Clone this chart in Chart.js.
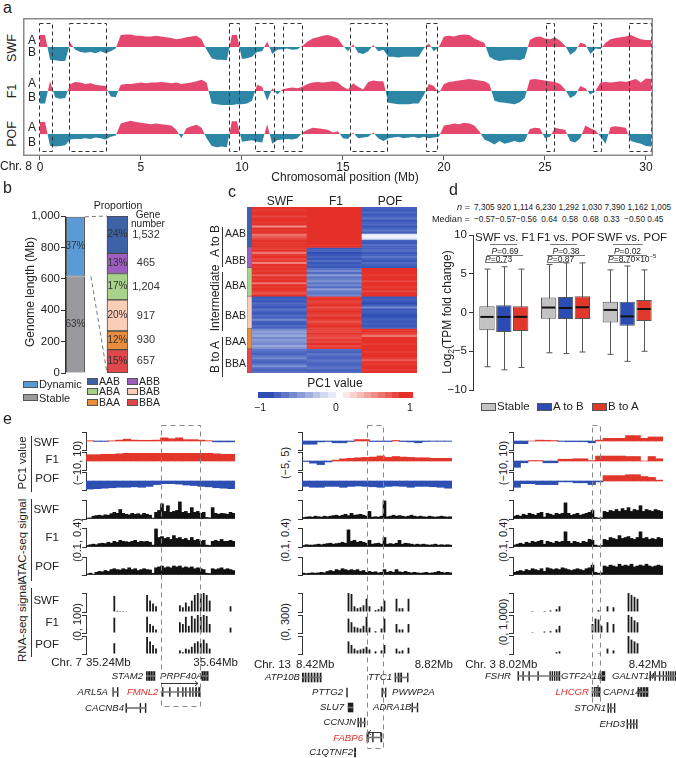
<!DOCTYPE html>
<html><head><meta charset="utf-8"><title>chart</title>
<script src="https://cdn.jsdelivr.net/npm/chart.js@4.4.1/dist/chart.umd.min.js"></script>
<style>
html,body{margin:0;padding:0;background:#fff;}
#root{position:relative;width:676px;height:758px;overflow:hidden;font-family:"Liberation Sans",Arial,Helvetica,sans-serif;color:#222;}
#root canvas{position:absolute;}
.t{position:absolute;white-space:pre;line-height:1;}
.sw{position:absolute;border:1px solid #555;box-sizing:border-box;}
#ov{position:absolute;left:0;top:0;pointer-events:none;}
sup{font-size:70%;vertical-align:super;line-height:0;}
sub{font-size:70%;vertical-align:sub;line-height:0;}
</style></head><body><div id="root"></div>
<script>
// ================= DATA =================
// ---- panel a : PC1 along Chr. 8 (0.25 Mb bins) ----
const aStep = 0.25;
const aTicks = [0,5,10,15,20,25,30];
const aSWF = [
 0.85,0.85,-0.9,-0.95,-1.0,-1.0,0.3,-0.2,
 -0.35,-0.4,-0.35,-0.45,-0.3,-0.45,-0.3,-0.1,
 0.85,0.9,0.9,0.8,0.8,0.75,0.75,0.8,
 0.75,0.7,0.65,0.55,0.6,0.7,0.75,0.8,
 0.55,-0.2,-0.8,-0.9,-0.9,-0.95,0.85,0.85,
 -0.85,-0.8,-0.7,-0.35,-0.3,0.4,-0.5,-0.2,
 -0.15,-0.1,-0.2,-0.15,0.1,0.4,0.6,0.7,
 0.8,0.85,0.75,0.6,0.1,-0.3,0.2,-0.4,
 -0.5,-0.3,0.15,-0.3,-0.2,-0.7,-0.7,-0.75,
 -0.7,-0.7,-0.7,-0.7,-0.1,0.25,-0.3,0.0,
 0.75,0.8,0.75,0.85,0.9,0.85,0.6,0.45,
 0.3,-0.7,-0.9,-1.0,-0.95,-0.9,-0.9,-0.95,
 -0.8,0.5,0.7,0.75,0.6,0.55,0.7,0.45,
 0.1,-0.55,-0.3,0.3,0.2,-0.5,-0.1,-0.15,
 0.3,0.55,0.65,0.7,0.75,0.85,0.7,0.55,
 0.5,0.5];
const aF1 = [
 -0.9,-0.9,0.7,-0.45,-0.55,-0.5,0.5,0.65,
 0.6,0.5,0.55,0.45,0.4,0.35,-0.4,-0.45,
 0.45,0.5,0.5,0.55,0.6,0.55,0.6,0.6,
 0.65,0.6,0.55,0.6,0.5,0.55,0.6,0.7,
 0.8,0.6,-0.9,-0.95,-1.0,-1.0,-1.0,-0.95,
 -0.95,-0.9,-0.7,0.45,0.3,-0.7,0.2,-0.25,
 0.1,0.2,0.25,0.2,0.3,0.5,0.6,0.65,
 0.6,0.65,0.7,0.6,0.3,0.1,0.55,0.3,
 0.1,0.65,0.75,0.7,0.7,-0.85,-0.9,-0.95,
 -0.95,-0.95,-0.9,-0.9,-0.3,0.5,0.35,-0.15,
 0.5,0.65,0.7,0.75,0.8,0.85,0.8,0.75,
 0.7,0.5,-0.7,-0.8,-0.85,-0.9,-0.95,-0.8,
 -0.5,0.8,0.85,0.8,0.75,0.7,0.65,0.5,
 0.1,-0.5,-0.3,0.35,0.2,-0.25,0.0,0.6,
 0.65,0.6,0.65,0.7,0.65,0.75,0.85,0.6,
 0.9,0.85];
const aPOF = [
 0.85,0.85,-0.85,-0.9,-0.85,-0.8,-0.4,-0.35,
 -0.35,-0.3,-0.35,-0.25,-0.3,-0.4,-0.2,-0.1,
 0.75,0.85,0.95,0.85,0.8,0.75,0.7,0.75,
 0.7,0.65,0.6,0.3,-0.3,0.4,0.55,0.65,
 0.45,-0.3,-0.85,-0.95,-0.9,-0.95,0.9,0.9,
 -0.55,-0.5,-0.45,-0.55,-0.6,0.7,-0.7,-0.45,
 -0.4,-0.35,-0.4,-0.3,0.1,0.3,0.45,0.4,
 0.35,0.3,0.1,0.2,-0.3,-0.35,0.1,-0.3,
 -0.25,-0.2,0.1,-0.3,-0.5,-0.3,-0.25,-0.2,
 -0.3,-0.25,-0.2,-0.3,-0.2,-0.3,-0.25,-0.2,
 0.6,0.65,0.75,0.7,0.8,0.75,0.6,0.2,
 -0.4,-0.55,-0.75,-0.5,-0.7,-0.6,-0.5,-0.6,
 -0.5,0.35,0.45,0.4,-0.3,-0.2,0.45,0.35,
 0.3,-0.5,-0.6,-0.3,0.6,0.4,0.25,-0.2,
 -0.7,0.5,0.55,0.5,0.45,-0.5,-0.6,-0.7,
 -0.85,-0.9];
const aBoxes = [[-0.05,0.58],[1.43,3.25],[9.34,9.83],[10.66,11.58],[12.05,12.97],[15.36,17.18],[19.1,19.66],[25.04,25.43],[27.37,27.78],[29.17,30.24]];

// ---- panel b ----
const bTicks = [0,200,400,600,800,1000];
const bStable = 615, bDynamic = 380;
const bClasses = ['AAB','ABB','ABA','BAB','BAA','BBA'];
const bPct = [24,13,17,20,12,15];
const bGenes = [1532,465,1204,917,930,657];

// ---- panel c : heatmap rows (top to bottom) ----
const cCols = ['SWF','F1','POF'];
const cGroupRows = [20,10,14,16,10,12];
const cSWF = [
 0.9,0.85,0.95,0.9,0.8,0.9,0.95,0.85,0.9,0.5,0.9,0.85,0.95,0.6,0.7,0.8,0.9,0.85,0.95,0.9,
 0.85,0.9,0.6,0.85,0.9,0.8,0.85,0.55,0.9,0.85,
 0.9,0.85,0.9,0.7,0.9,0.85,0.9,0.6,0.9,0.85,0.9,0.85,0.75,0.9,
 -0.85,-0.8,-0.85,-0.75,-0.8,-0.85,-0.7,-0.8,-0.85,-0.75,-0.8,-0.6,-0.8,-0.85,-0.75,-0.8,
 -0.6,-0.5,-0.55,-0.45,-0.6,-0.5,-0.55,-0.6,-0.45,-0.55,
 -0.7,-0.75,-0.8,-0.7,-0.6,-0.75,-0.8,-0.7,-0.55,-0.75,-0.8,-0.7];
const cF1 = [
 0.95,0.95,0.9,0.95,0.95,0.9,0.95,0.95,0.9,0.95,0.95,0.9,0.95,0.95,0.9,0.95,0.95,0.9,0.95,0.95,
 -0.85,-0.8,-0.9,-0.85,-0.8,-0.85,-0.75,-0.85,-0.8,-0.85,
 -0.7,-0.6,-0.75,-0.5,-0.7,-0.65,-0.55,-0.7,-0.6,-0.75,-0.5,-0.65,-0.7,-0.6,
 0.85,0.9,0.8,0.85,0.9,0.75,0.85,0.9,0.85,0.8,0.9,0.85,0.75,0.85,0.9,0.85,
 0.85,0.8,0.9,0.8,0.75,0.85,0.8,0.9,0.8,0.85,
 -0.75,-0.8,-0.7,-0.75,-0.8,-0.7,-0.75,-0.8,-0.75,-0.7,-0.8,-0.75];
const cPOF = [
 -0.8,-0.85,-0.75,-0.85,-0.8,-0.7,-0.85,-0.8,-0.75,-0.85,-0.8,-0.7,-0.8,-0.1,-0.05,-0.15,-0.8,-0.85,-0.75,-0.8,
 -0.8,-0.75,-0.85,-0.8,-0.7,-0.8,-0.85,-0.75,-0.8,-0.85,
 0.95,0.9,0.95,0.85,0.9,0.95,0.8,0.9,0.95,0.85,0.9,0.8,0.9,0.95,
 -0.85,-0.8,-0.85,-0.9,-0.8,-0.6,-0.85,-0.8,-0.85,-0.9,-0.85,-0.8,-0.85,-0.8,-0.85,-0.8,
 0.9,0.95,0.85,0.6,0.9,0.95,0.9,0.85,0.95,0.9,
 0.9,0.85,0.95,0.9,0.85,0.7,0.9,0.85,0.95,0.9,0.85,0.9];

// ---- panel d : box plots (series x category) ----
const dCats = ['SWF vs. F1','F1 vs. POF','SWF vs. POF'];
const dSeries = ['Stable','A to B','B to A'];
const dN   = [[7305,6230,7390],[920,1292,1162],[1114,1030,1005]];
const dMed = [[-0.57,0.64,0.33],[-0.57,0.58,-0.50],[-0.56,0.68,0.45]];
const dQ1  = [[-2.3,-0.8,-1.3],[-2.5,-0.85,-1.7],[-2.4,-0.85,-1.1]];
const dQ3  = [[0.8,1.95,1.4],[0.95,2.0,1.4],[0.8,2.1,1.6]];
const dMin = [[-7.0,-5.2,-5.4],[-7.4,-5.3,-6.3],[-7.1,-5.1,-5.0]];
const dMax = [[5.6,6.2,5.5],[5.9,6.4,6.0],[5.6,6.4,5.5]];
const dTicks = [-10,-5,0,5,10];
const dP = [['0.69','0.73'],['0.38','0.87'],['0.02','8.70×10<sup>−5</sup>']];

// ---- panel e : browser tracks (20 PC1 bins, 50 signal bins) ----
const eC1SWF = [0.3,-0.5,-0.5,0.2,1.0,2.0,1.0,0.8,0.8,1.0,3.5,2.5,3.5,1.5,1.5,1.0,0.3,-1.0,-1.0,-1.0];
const eC1F1  = [7,7,7.5,7.5,8,8.5,8.5,8.5,8.5,8.5,8.5,8.5,8.5,8.5,8.5,8.5,8.5,8,7.5,7.5];
const eC1POF = [-9,-8.5,-8,-7.5,-7,-7,-6.5,-7,-6,-4,-3,-3,-3.5,-4.5,-5,-6,-6.5,-7.5,-8,-8.5];
const eC2SWF = [-1.8,-1.8,-0.5,-0.3,-1,-1,-0.3,0.8,0.8,-0.3,-0.3,-0.3,0.3,-0.3,-0.5,-1,-0.3,-0.2,-0.2,-0.2];
const eC2F1  = [-0.3,-1.2,-2,-0.5,0.5,1.2,1.5,1.8,2,2.2,2.8,2,2.5,2.2,2,1.8,1.8,1.5,1.5,1.5];
const eC2POF = [-3,-3.5,-3.5,-3,-3,-3.5,-3,-2.8,-3,-3.2,-3.5,-3,-2.8,-3,-3.5,-3,-3,-3.2,-3.5,-4];
const eC3SWF = [-3,-3,0,1,0.8,0.5,-0.5,-0.8,-0.8,-0.8,-2,1,3,3,3,6,6,3,4.5,4.5];
const eC3F1  = [-7,-2,0.5,0.5,-2,-2,2,2,2.5,2.5,0.5,5.5,5.5,5.5,5.5,5,5,0,5,2.5];
const eC3POF = [-7,-3,-3,-4,-4,-4,-1,-1,-2,-2,-4,-1,6,6,6,7,7,5,4,1];

const eA1SWF = [0.05,0.06,0.15,0.18,0.2,0.17,0.22,0.2,0.28,0.35,0.3,0.5,0.3,0.25,0.22,0.3,0.25,0.28,0.22,0.3,0.25,0.2,0.05,0.35,0.45,0.8,0.4,0.7,0.35,0.4,0.45,0.9,0.35,0.4,0.3,0.6,0.35,0.4,0.3,0.35,0.08,0.06,0.6,0.3,0.25,0.3,0.28,0.25,0.35,0.3];
const eA1F1  = [0.08,0.12,0.15,0.12,0.18,0.2,0.18,0.25,0.2,0.3,0.25,0.35,0.3,0.28,0.25,0.3,0.35,0.25,0.3,0.28,0.3,0.25,0.1,0.95,0.5,0.55,0.45,0.5,0.4,0.6,0.45,0.5,0.4,0.45,0.35,0.5,0.35,0.4,0.3,0.35,0.1,0.08,0.3,0.35,0.3,0.4,0.3,0.3,0.35,0.3];
const eA1POF = [0.06,0.1,0.05,0.15,0.2,0.18,0.25,0.2,0.3,0.35,0.3,0.28,0.35,0.3,0.4,0.3,0.35,0.25,0.3,0.35,0.3,0.28,0.1,0.4,0.45,0.5,0.4,0.45,0.4,0.5,0.45,0.5,0.4,0.45,0.4,0.45,0.35,0.4,0.35,0.3,0.1,0.08,0.35,0.3,0.35,0.4,0.3,0.35,0.3,0.25];
const eA2SWF = [0.08,0.1,0.12,0.1,0.15,0.12,0.1,0.15,0.12,0.15,0.18,0.2,0.15,0.2,0.25,0.18,0.3,0.2,0.22,0.25,0.2,0.15,0.4,0.1,0.12,0.1,0.15,0.95,0.12,0.15,0.2,0.15,0.18,0.15,0.12,0.15,0.2,0.15,0.12,0.15,0.12,0.1,0.15,0.12,0.1,0.12,0.15,0.12,0.1,0.12];
const eA2F1  = [0.08,0.12,0.1,0.1,0.12,0.15,0.12,0.15,0.18,0.2,0.15,0.18,0.2,0.25,0.2,0.9,0.3,0.35,0.25,0.3,0.25,0.2,0.35,0.15,0.18,0.2,0.15,0.5,0.15,0.18,0.15,0.2,0.35,0.15,0.2,0.18,0.15,0.12,0.15,0.12,0.15,0.12,0.1,0.12,0.15,0.1,0.12,0.1,0.12,0.1];
const eA2POF = [0.1,0.08,0.1,0.12,0.1,0.12,0.15,0.12,0.2,0.25,0.2,0.3,0.25,0.35,0.3,0.25,0.3,0.25,0.3,0.2,0.25,0.15,0.2,0.15,0.18,0.12,0.15,0.3,0.15,0.2,0.15,0.3,0.18,0.15,0.2,0.15,0.12,0.15,0.12,0.1,0.12,0.15,0.1,0.12,0.15,0.2,0.15,0.12,0.15,0.12];
const eA3SWF = [0.15,0.2,0.15,0.25,0.2,0.3,0.25,0.2,0.3,0.35,0.1,0.3,0.25,0.2,0.3,0.25,0.3,0.85,0.3,0.2,0.25,0.3,0.2,0.25,0.3,0.35,0.45,0.08,0.05,0.06,0.4,0.35,0.45,0.4,0.5,0.4,0.55,0.45,0.6,0.4,0.5,0.45,0.7,0.4,0.5,0.45,0.4,0.5,0.45,0.4];
const eA3F1  = [0.1,0.15,0.2,0.15,0.25,0.2,0.3,0.25,0.3,0.35,0.15,0.3,0.25,0.2,0.3,0.25,0.3,0.8,0.3,0.2,0.3,0.25,0.2,0.3,0.25,0.4,0.35,0.1,0.06,0.08,0.4,0.35,0.5,0.45,0.4,0.6,0.45,0.5,0.55,0.45,0.4,0.5,0.8,0.45,0.5,0.4,0.45,0.4,0.5,0.45];
const eA3POF = [0.15,0.2,0.25,0.2,0.3,0.25,0.35,0.3,0.25,0.35,0.2,0.4,0.35,0.3,0.35,0.3,0.4,0.35,0.3,0.25,0.3,0.35,0.3,0.25,0.35,0.4,0.55,0.15,0.1,0.12,0.5,0.45,0.55,0.5,0.45,0.6,0.5,0.55,0.5,0.6,0.45,0.5,0.55,0.5,0.6,0.5,0.45,0.5,0.55,0.5];

const eR1SWF = [0,0,0,0,0,0,0,0,0,0.85, 0.06,0.05,0.05,0.04,0,0,0,0,0,0, 0.9,0.6,0.45,0.3,0,0.02,0.02,0.02,0.02,0, 0,0.35,0.25,0.5,0.3,0.6,0.9,1.0,0.95,1.0, 0.9,0.6,0,0,0,0,0,0,0.3,0];
const eR1F1  = [0,0,0,0,0,0,0,0,0,0.85, 0,0,0,0,0,0,0,0,0,0, 0.9,0.5,0.4,0.2,0,0,0,0,0,0, 0,0.6,0.5,0.9,0.4,0.95,0.8,1.0,0.9,1.0, 0.95,0.5,0,0,0,0,0,0,0.3,0];
const eR1POF = [0,0,0,0,0,0,0,0,0,0.6, 0,0,0,0,0,0,0,0,0,0, 0.95,0.7,0.5,0.3,0,0,0,0,0,0, 0,0.2,0.1,0.3,0.25,0.4,0.6,0.7,0.6,0.8, 0.6,0.3,0,0,0,0,0,0,0,0];
const eR2SWF = [0,0,0,0,0,0,0,0,0,0, 0,0,0,0,0,1.0,0.95,0.3,0.2,0.25, 0.35,0.7,0.3,0,0.1,0.15,0.3,0.6,0,0, 0,0.7,0.2,0.2,0,0.7,0,0,0,0, 0,0,0,0,0,0,0,0,0,0];
const eR2F1  = [0,0,0,0,0,0,0,0,0,0, 0,0,0,0,0,0.8,0.6,0.35,0.3,0.25, 0.4,0.9,0.3,0,0.1,0,0.25,0.8,0,0, 0,0.5,0.2,0.2,0,0.5,0,0,0,0, 0,0,0,0,0,0,0,0,0,0];
const eR2POF = [0,0,0,0,0,0,0,0,0,0, 0,0,0,0,0,0.7,0.5,0.3,0.2,0.25, 0.3,0.4,0.25,0,0.15,0,0.2,0.5,0,0, 0,0.3,0.15,0.2,0,0.35,0,0,0,0, 0,0,0,0,0,0,0,0,0,0];
const eR3SWF = [0,0,0,0,0,0,0.05,0,0,0, 0.05,0,0.08,0,0.15,0.3,0,0,0,0, 0,0,0,0,0,0,0,0,0.1,0, 0,0.3,0,0.25,0,0,0,0,1.0,0.9, 0.8,0.7,0,0,0,0,0,0,0,0];
const eR3F1  = [0,0,0,0,0,0,0.05,0,0,0, 0.08,0,0.1,0,0.2,0.4,0,0,0,0, 0,0,0,0,0,0,0.5,0.8,0.75,0.4, 0,0.6,0,0.5,0,0,0,0,1.0,0.9, 0.7,0.6,0,0,0,0,0,0,0,0];
const eR3POF = [0,0,0,0,0,0,0,0,0,0, 0,0,0,0,0.1,0.15,0,0,0,0, 0,0,0,0,0,0,0,0,0.05,0, 0,0.3,0,0.2,0,0,0,0,1.0,0.8, 0.7,0.6,0,0,0,0,0,0,0,0];

// genes: [name, row, start, end, exons]
const eGenes1 = [
 ['STAM2',0,35.402,35.425,[[35.402,35.404],[35.406,35.408],[35.410,35.4125],[35.415,35.417],[35.419,35.421],[35.423,35.425]]],
 ['PRPF40A',0,35.550,35.568,[[35.551,35.554],[35.556,35.559],[35.561,35.563],[35.565,35.568]]],
 ['ARL5A',1,35.312,35.326,[[35.312,35.3135],[35.324,35.326]]],
 ['FMNL2',1,35.441,35.546,[[35.445,35.447],[35.464,35.466],[35.486,35.488],[35.499,35.501],[35.507,35.509],[35.518,35.520],[35.526,35.528],[35.534,35.537],[35.542,35.546]]],
 ['CACNB4',2,35.347,35.401,[[35.347,35.349],[35.385,35.387],[35.399,35.401]]]];
const eGenes2 = [
 ['ATP10B',0,8.420,8.473,[[8.420,8.424],[8.428,8.431],[8.436,8.439],[8.444,8.447],[8.452,8.455],[8.460,8.463],[8.468,8.471]]],
 ['TTC1',0,8.668,8.703,[[8.668,8.670],[8.676,8.679],[8.683,8.686],[8.701,8.703]]],
 ['PTTG2',1,8.539,8.541,[[8.539,8.541]]],
 ['PWWP2A',1,8.633,8.644,[[8.633,8.635],[8.642,8.644]]],
 ['SLU7',2,8.543,8.556,[[8.543,8.556]]],
 ['ADRA1B',2,8.713,8.729,[[8.713,8.715],[8.727,8.729]]],
 ['CCNJN',3,8.569,8.588,[[8.569,8.571],[8.576,8.578],[8.586,8.588]]],
 ['FABP6',4,8.593,8.633,[[8.593,8.597],[8.608,8.610],[8.630,8.633]]],
 ['C1QTNF2',5,8.560,8.563,[[8.560,8.563]]]];
const eGenes3 = [
 ['FSHR',0,8.033,8.145,[[8.033,8.035],[8.046,8.048],[8.062,8.064],[8.086,8.088],[8.118,8.120],[8.124,8.126],[8.130,8.132],[8.136,8.138],[8.142,8.145]]],
 ['GTF2A1L',0,8.252,8.265,[[8.252,8.255],[8.258,8.265]]],
 ['GALNT14',0,8.385,8.455,[[8.385,8.387],[8.398,8.400],[8.410,8.412],[8.420,8.422],[8.428,8.430],[8.434,8.436],[8.440,8.442],[8.446,8.448],[8.452,8.455]]],
 ['LHCGR',1,8.231,8.252,[[8.231,8.233],[8.237,8.239],[8.243,8.245],[8.248,8.252]]],
 ['CAPN14',1,8.353,8.380,[[8.353,8.356],[8.360,8.364],[8.367,8.371],[8.374,8.380]]],
 ['STON1',2,8.273,8.292,[[8.273,8.275],[8.280,8.282],[8.290,8.292]]],
 ['EHD3',3,8.324,8.351,[[8.324,8.326],[8.333,8.335],[8.341,8.343],[8.349,8.351]]]];

// ================= HELPERS =================
const PINK='#e5486f', TEAL='#2d86a6', RED='#e2362a', BLUE='#2e4fb2';
const FONT='"Liberation Sans", Arial, Helvetica, sans-serif';
Chart.defaults.font.family = FONT;
Chart.defaults.color = '#222';
const root = document.getElementById('root');
const svg = [];
function ln(x1,y1,x2,y2,c,w,dash){ svg.push(`<line x1="${x1}" y1="${y1}" x2="${x2}" y2="${y2}" stroke="${c||'#333'}" stroke-width="${w||1}"${dash?` stroke-dasharray="${dash}"`:''}/>`); }
function rc(x,y,w,h,c,dash){ svg.push(`<rect x="${x}" y="${y}" width="${w}" height="${h}" fill="none" stroke="${c}" stroke-width="1" stroke-dasharray="${dash}"/>`); }
function T(x,y,s,o){ o=o||{}; const d=document.createElement('div'); d.className='t'; d.innerHTML=s;
  d.style.left=x+'px'; d.style.top=y+'px'; d.style.fontSize=(o.size||11)+'px';
  if(o.color) d.style.color=o.color; if(o.it) d.style.fontStyle='italic';
  const tx = o.a==='r' ? '-100%' : (o.a==='l' ? '0' : '-50%');
  if(o.sx){ d.style.transformOrigin='0 50%'; }
  d.style.transform = o.rot ? 'translate(-50%,-50%) rotate(-90deg)' : `translate(${tx},-50%)` + (o.sx?` scaleX(${o.sx})`:'');
  root.appendChild(d); }
function SW(x,y,w,h,c){ const d=document.createElement('div'); d.className='sw'; d.style.cssText+=`left:${x}px;top:${y}px;width:${w}px;height:${h}px;background:${c}`; root.appendChild(d); }
function mk(x,y,w,h,cfg){ const c=document.createElement('canvas'); c.width=w; c.height=h; c.style.left=x+'px'; c.style.top=y+'px'; root.appendChild(c);
  const o=cfg.options||{}; o.responsive=false; o.animation=false; o.events=[]; o.devicePixelRatio=1;
  if(!o.layout) o.layout={padding:0};
  o.plugins=Object.assign({legend:{display:false},tooltip:{enabled:false}},o.plugins||{});
  cfg.options=o; return new Chart(c.getContext('2d'),cfg); }
function heatColor(v){ const t=Math.min(1,Math.abs(v)/0.9); const c=v>=0?[228,48,40]:[46,78,182];
  const m=a=>Math.round(255+(a-255)*t); return `rgb(${m(c[0])},${m(c[1])},${m(c[2])})`; }
const fmtSigned=v=>(v<0?'−':'')+Math.abs(v).toFixed(2);

// ================= PANEL A =================
T(3,8,'a',{size:16,a:'l'});
const aPos = aSWF.map((_,i)=>+(i*aStep).toFixed(2));
const aSeries=[aSWF,aF1,aPOF];
const aRange=[[-1.21,2.07],[-1.36,1.93],[-1.57,1.71]];
const aScales={x:{type:'linear',min:-0.84,max:30.35,afterBuildTicks:s=>{s.ticks=aTicks.map(v=>({value:v}));},afterFit:s=>{s.height=22;},
  ticks:{font:{size:12},color:'#222',padding:0,maxRotation:0,autoSkip:false},grid:{drawOnChartArea:false,drawTicks:true,tickLength:4,color:'#555'},border:{display:false}}};
aSeries.forEach((_,k)=>{ aScales['y'+k]={axis:'y',type:'linear',position:'right',stack:'tracks',stackWeight:1,min:aRange[k][0],max:aRange[k][1],
  afterFit:s=>{s.width=0;},ticks:{display:false},grid:{display:false},border:{display:false}}; });
const aPlugin={id:'aFrame',afterDatasetsDraw(ch){ const {ctx,chartArea:ca,scales:{x}}=ch; ctx.save();
  ctx.strokeStyle='#333'; ctx.lineWidth=1; ctx.setLineDash([4,3]);
  aBoxes.forEach(([s,e])=>{ const x1=Math.round(x.getPixelForValue(s))+0.5, x2=Math.round(x.getPixelForValue(e))+0.5; ctx.strokeRect(x1,ca.top+5.5,x2-x1,ca.bottom-ca.top-10); });
  ctx.setLineDash([]); ctx.strokeStyle='#8a8a8a'; ctx.lineWidth=1.5; ctx.strokeRect(ca.left+0.75,ca.top+0.75,ca.width-1.5,ca.height-1.5); ctx.restore(); }};
mk(23,18,630,160,{type:'line',data:{datasets:aSeries.map((arr,k)=>({data:arr.map((v,i)=>({x:aPos[i],y:v})),yAxisID:'y'+k,xAxisID:'x',
  borderColor:'rgba(0,0,0,0)',borderWidth:0,pointRadius:0,tension:0,fill:{target:{value:0},above:PINK,below:TEAL}}))},
  options:{scales:aScales},plugins:[aPlugin]});
[['SWF',48],['F1',91],['POF',134]].forEach(([n,y])=>T(12,y,n,{size:12.5,rot:true}));
[[40,'A'],[52,'B'],[83,'A'],[97,'B'],[127,'A'],[142,'B']].forEach(([y,s])=>T(32,y,s,{size:12}));
T(0,166,'Chr. 8',{size:12,a:'l'});
T(345,177,'Chromosomal position (Mb)',{size:12});

// ================= PANEL B =================
T(3,188,'b',{size:16,a:'l'});
const bDatasets=[
 {data:[bStable,null,null],backgroundColor:'#9a9a9e',yAxisID:'y',barPercentage:0.9,inTxt:'63%'},
 {data:[bDynamic,null,null],backgroundColor:'#5b9bd5',yAxisID:'y',barPercentage:0.9,inTxt:'37%'}];
const bCols={AAB:'#3e62a8',ABB:'#9d5fbf',ABA:'#a8d18b',BAB:'#f9cdb6',BAA:'#e98c3c',BBA:'#e0474b'};
for(let i=bClasses.length-1;i>=0;i--) bDatasets.push({data:[null,null,bPct[i]],backgroundColor:bCols[bClasses[i]],yAxisID:'y2',barPercentage:1,inTxt:bPct[i]+'%',gene:bGenes[i].toLocaleString('en-US')});
bDatasets.forEach(d=>{d.borderColor='#4a4a4a';d.borderWidth=1;d.borderSkipped=false;d.categoryPercentage=1;});
const bPlugin={id:'bLab',afterDatasetsDraw(ch){ const ctx=ch.ctx; ctx.save(); ctx.textAlign='center'; ctx.textBaseline='middle'; ctx.fillStyle='#333';
  ch.data.datasets.forEach((ds,i)=>{ ch.getDatasetMeta(i).data.forEach((el,j)=>{ if(ds.data[j]==null) return; const cy=(el.y+el.base)/2;
    ctx.font='10px '+FONT; ctx.fillText(ds.inTxt,el.x,cy); if(ds.gene){ ctx.font='11px '+FONT; ctx.fillText(ds.gene,el.x+el.width/2+18,cy);} }); });
  const dyn=ch.getDatasetMeta(1).data[0], top=ch.getDatasetMeta(ch.data.datasets.length-1).data[2];
  const lx=dyn.x+dyn.width/2, rx=top.x-top.width/2;
  ctx.strokeStyle='#777'; ctx.lineWidth=1; ctx.setLineDash([4,3]); ctx.beginPath();
  ctx.moveTo(lx,dyn.y); ctx.lineTo(rx,top.y); ctx.moveTo(lx+6,dyn.base); ctx.lineTo(rx,ch.scales.y2.getPixelForValue(0)); ctx.stroke(); ctx.restore(); }};
mk(25,206,143,177,{type:'bar',data:{labels:['Genome','','Proportion'],datasets:bDatasets},
 options:{layout:{padding:{top:10,bottom:10,right:40}},scales:{
  x:{display:false,stacked:true},
  y:{stacked:true,min:0,max:1000,afterBuildTicks:s=>{s.ticks=bTicks.map(v=>({value:v}));},afterFit:s=>{s.width=40;},
     ticks:{font:{size:11.5},color:'#222',padding:1,callback:v=>v.toLocaleString('en-US')},grid:{drawOnChartArea:false,tickLength:4,color:'#333'},border:{display:true,color:'#333'}}  ,
  y2:{display:false,stacked:true,min:0,max:bPct.reduce((a,b)=>a+b,0)}}},plugins:[bPlugin]});
T(30,292,'Genome length (Mb)',{size:12,rot:true});
T(118,205,'Proportion',{size:10.5});
T(148,215,'Gene',{size:10}); T(148,224,'number',{size:10});
SW(23,381,15,7,'#5b9bd5'); T(39,384,'Dynamic',{size:11,a:'l'});
SW(23,394,15,7,'#9a9a9e'); T(39,398,'Stable',{size:11,a:'l'});
[['AAB',87,381],['ABB',127,381],['ABA',87,391],['BAB',127,391],['BAA',87,402],['BBA',127,402]].forEach(([n,x,y])=>{SW(x,y-3,11,7,bCols[n]);T(x+12,y,n,{size:10.5,a:'l'});});

// ================= PANEL C =================
T(228,192,'c',{size:16,a:'l'});
const cTotal=cSWF.length;
mk(252,207,165,166,{type:'bar',data:{labels:cCols,datasets:cSWF.map((v,i)=>({data:[1,1,1],backgroundColor:[heatColor(v),heatColor(cF1[i]),heatColor(cPOF[i])],borderWidth:0,barPercentage:1,categoryPercentage:1}))},
 options:{scales:{x:{display:false,stacked:true},y:{display:false,stacked:true,reverse:true,min:0,max:cTotal}}}});
mk(247,207,5,166,{type:'bar',data:{labels:['g'],datasets:cGroupRows.map((r,i)=>({data:[r],backgroundColor:bCols[bClasses[i]],borderColor:'#555',borderWidth:0.6,borderSkipped:false,barPercentage:1,categoryPercentage:1}))},
 options:{scales:{x:{display:false,stacked:true},y:{display:false,stacked:true,reverse:true,min:0,max:cTotal}}}});
[['SWF',280],['F1',336],['POF',390]].forEach(([n,x])=>T(x,201,n,{size:12}));
[['AAB',233],['ABB',260],['ABA',285],['BAB',315],['BAA',341],['BBA',363]].forEach(([n,y])=>T(246,y,n,{size:10.5,a:'r'}));
T(215,241,'A to B',{size:12,rot:true}); T(215,298,'Intermediate',{size:12,rot:true}); T(215,357,'B to A',{size:12,rot:true});
ln(222.5,227,222.5,267); ln(222.5,272,222.5,331); ln(222.5,337,222.5,377);
T(335,383,'PC1 value',{size:12});
for(let i=0;i<10;i++){ const d=document.createElement('div'); d.style.cssText=`position:absolute;left:${258+i*7.8}px;top:392px;width:8px;height:6px;background:${heatColor(-1+i*0.1)}`; root.appendChild(d); }
for(let i=0;i<10;i++){ const d=document.createElement('div'); d.style.cssText=`position:absolute;left:${343+i*7}px;top:392px;width:7.2px;height:6px;background:${heatColor(0.1+i*0.1)}`; root.appendChild(d); }
T(260,407,'−1',{size:10.5}); T(336,407,'0',{size:10.5}); T(410,407,'1',{size:10.5});

// ================= PANEL D =================
T(449,190,'d',{size:16,a:'l'});
const dColors=['#c3c3c3','#2b4cb3','#e0392b'];
const dPlugin={id:'dbox',
 beforeDatasetsDraw(ch){ const y=ch.scales.y,ctx=ch.ctx; ctx.save(); ctx.strokeStyle='#555'; ctx.lineWidth=1;
  ch.data.datasets.forEach((ds,i)=>ch.getDatasetMeta(i).data.forEach((el,j)=>{ const x=Math.round(el.x)+0.5, a=y.getPixelForValue(dMax[i][j]), b=y.getPixelForValue(dMin[i][j]);
   ctx.beginPath(); ctx.moveTo(x,a); ctx.lineTo(x,b); ctx.moveTo(x-3,a); ctx.lineTo(x+3,a); ctx.moveTo(x-3,b); ctx.lineTo(x+3,b); ctx.stroke(); })); ctx.restore(); },
 afterDatasetsDraw(ch){ const y=ch.scales.y,ctx=ch.ctx; ctx.save(); ctx.strokeStyle='#111'; ctx.lineWidth=2;
  ch.data.datasets.forEach((ds,i)=>ch.getDatasetMeta(i).data.forEach((el,j)=>{ const m=y.getPixelForValue(dMed[i][j]);
   ctx.beginPath(); ctx.moveTo(el.x-el.width/2+1,m); ctx.lineTo(el.x+el.width/2-1,m); ctx.stroke(); })); ctx.restore(); }};
mk(440,225,218,175,{type:'bar',data:{labels:dCats,datasets:dSeries.map((nm,i)=>({label:nm,data:dQ1[i].map((q,j)=>[q,dQ3[i][j]]),backgroundColor:dColors[i],borderColor:'#555',borderWidth:1,borderSkipped:false,barPercentage:0.91,categoryPercentage:0.82}))},
 options:{layout:{padding:{top:10,bottom:10}},scales:{x:{display:false},
  y:{min:-10,max:10,afterBuildTicks:s=>{s.ticks=dTicks.map(v=>({value:v}));},afterFit:s=>{s.width=33;},
   ticks:{font:{size:11.5},color:'#222',padding:2,callback:v=>(v<0?'−':'')+Math.abs(v)},grid:{drawOnChartArea:false,tickLength:4,color:'#333'},border:{display:true,color:'#333'}}}},plugins:[dPlugin]});
T(447,312,'Log<sub>2</sub>(TPM fold change)',{size:12,rot:true});
const dNtxt=[], dMtxt=[];
for(let j=0;j<3;j++) for(let i=0;i<3;i++){ dNtxt.push(dN[i][j].toLocaleString('en-US')); dMtxt.push(fmtSigned(dMed[i][j])); }
T(470,208,'<i>n</i> =',{size:9.2,a:'r'}); T(470,220,'Median =',{size:9.2,a:'r'});
T(474,208,dNtxt.join(' '),{size:9.2,a:'l',sx:0.9});
T(474,220,dMtxt.slice(0,3).join('')+'  '+dMtxt.slice(3).join('  ').replace(/  (\S+)$/,' $1'),{size:9.2,a:'l',sx:0.9});
const dG=[{c:505,t:[490,517],p1:[487,523],p2:[485,507]},{c:566,t:[550,577],p1:[547,585],p2:[547,568]},{c:632,t:[613,643],p1:[608,647],p2:[608,630]}];
dG.forEach((g,j)=>{ T(g.c,238,dCats[j],{size:11.5}); ln(g.t[0],244.5,g.t[1],244.5,'#777');
  T((g.p1[0]+g.p1[1])/2,250.5,'<i>P</i>='+dP[j][0],{size:8.5}); ln(g.p1[0],255.5,g.p1[1],255.5,'#777');
  T(g.p2[0],258.5,'<i>P</i>='+dP[j][1],{size:8.5,a:'l'}); ln(g.p2[0],262.5,g.p2[1],262.5,'#777'); });
SW(481,403,15,8,dColors[0]); T(497,407,'Stable',{size:11.5,a:'l'});
SW(537,403,15,8,dColors[1]); T(553,407,'A to B',{size:11.5,a:'l'});
SW(592,403,15,8,dColors[2]); T(608,407,'B to A',{size:11.5,a:'l'});

// ================= PANEL E =================
T(3,419,'e',{size:16,a:'l'});
const ePC=[[432,450],[452,470],[472,490]], eAT=[[500,519],[528,547],[557,575]], eRN=[[593,612],[615,633],[636,654]];
function eTrack(x0,x1,y0,y1,vals,min,max,colors,bp){
 return mk(x0-4,y0-1,x1-x0+4,y1-y0+2,{type:'bar',data:{labels:vals.map((_,i)=>i),datasets:[{data:vals,backgroundColor:colors,borderWidth:0,barPercentage:bp,categoryPercentage:1}]},
  options:{layout:{padding:{top:1,bottom:1}},scales:{x:{display:false},y:{min,max,afterBuildTicks:s=>{s.ticks=[{value:min},{value:max}];},afterFit:s=>{s.width=4;},
   ticks:{display:false},grid:{drawOnChartArea:false,drawTicks:true,tickLength:4,color:'#333'},border:{display:true,color:'#333'}}}}}); }
function eGeneChart(x0,w,y0,rowH,nRows,min,max,genes){
 const rows=Array.from({length:nRows},(_,i)=>'r'+i);
 const intr=genes.map(g=>({x:[g[2],g[3]],y:'r'+g[1]}));
 const ex=[]; genes.forEach(g=>g[4].forEach(e=>ex.push({x:e,y:'r'+g[1]})));
 return mk(x0,y0,w,rowH*nRows,{type:'bar',data:{labels:rows,datasets:[
  {data:intr,backgroundColor:'#777',barThickness:1,grouped:false},
  {data:ex,backgroundColor:'#1d1d1d',barThickness:9,grouped:false}]},
  options:{indexAxis:'y',scales:{x:{type:'linear',min,max,display:false},y:{type:'category',display:false}}}}); }
const eCols=[
 {x0:86,x1:235,R:10,pc:[eC1SWF,eC1F1,eC1POF],at:[eA1SWF,eA1F1,eA1POF],rn:[eR1SWF,eR1F1,eR1POF]},
 {x0:302,x1:452,R:5,pc:[eC2SWF,eC2F1,eC2POF],at:[eA2SWF,eA2F1,eA2POF],rn:[eR2SWF,eR2F1,eR2POF]},
 {x0:513,x1:663,R:10,pc:[eC3SWF,eC3F1,eC3POF],at:[eA3SWF,eA3F1,eA3POF],rn:[eR3SWF,eR3F1,eR3POF]}];
eCols.forEach(c=>{
 c.pc.forEach((v,i)=>eTrack(c.x0,c.x1,ePC[i][0],ePC[i][1],v,-c.R,c.R,v.map(a=>a>=0?RED:BLUE),1));
 c.at.forEach((v,i)=>eTrack(c.x0,c.x1,eAT[i][0],eAT[i][1],v,0,1,'#111',1));
 c.rn.forEach((v,i)=>eTrack(c.x0,c.x1,eRN[i][0],eRN[i][1],v,0,1,'#1a1a1a',0.6));
});
eGeneChart(86,149,668,16,3,35.24,35.64,eGenes1);
eGeneChart(302,150,670,15,6,8.42,8.82,eGenes2);
eGeneChart(513,163,668,16,4,8.02,8.4547,eGenes3);
// left labels
T(23,463,'PC1 value',{size:11.5,rot:true}); T(23,541,'ATAC-seq signal',{size:11.5,rot:true}); T(23,622,'RNA-seq signal',{size:11.5,rot:true});
ln(31.5,436,31.5,492); ln(31.5,499,31.5,581); ln(31.5,588,31.5,657);
[['SWF',443],['F1',460],['POF',479],['SWF',510],['F1',538],['POF',567],['SWF',601],['F1',623],['POF',645]].forEach(([n,y])=>T(59,y,n,{size:11.5,a:'r'}));
[[77,'(−10, 10)','(0, 100)'],[285,'(−5, 5)','(0, 300)'],[503,'(−10, 10)','(0, 1,000)']].forEach(([x,a,b])=>{
 T(x,463,a,{size:11,rot:true}); T(x,540,'(0.1, 0.4)',{size:11,rot:true}); T(x,622,b,{size:11,rot:true}); });
T(82,663,'Chr. 7',{size:11.5,a:'r'}); T(86,663,'35.24Mb',{size:11.5,a:'l'}); T(238,663,'35.64Mb',{size:11.5,a:'r'});
T(291,665,'Chr. 13',{size:11.5,a:'r'}); T(296,665,'8.42Mb',{size:11.5,a:'l'}); T(453,665,'8.82Mb',{size:11.5,a:'r'});
T(496,665,'Chr. 3',{size:11.5,a:'r'}); T(499,665,'8.02Mb',{size:11.5,a:'l'}); T(667,665,'8.42Mb',{size:11.5,a:'r'});
const GR='#e0302a';
[[143,676,'STAM2','r'],[160,676,'PRPF40A','l'],[108,692,'ARL5A','r'],[127,692,'FMNL2','l',GR],[124,708,'CACNB4','r'],
 [300,677,'ATP10B','r'],[368,677,'TTC1','l'],[343,692,'PTTG2','r'],[392,692,'PWWP2A','l'],[344,707,'SLU7','r'],[373,707,'ADRA1B','l'],[356,722,'CCNJN','r'],[363,738,'FABP6','r',GR],[353,752,'C1QTNF2','r'],
 [511,676,'FSHR','r'],[561,676,'GTF2A1L','l'],[612,676,'GALNT14','l'],[589,692,'LHCGR','r',GR],[603,692,'CAPN14','l'],[606,708,'STON1','r'],[625,724,'EHD3','r']
].forEach(([x,y,s,a,col])=>T(x,y,s,{size:9.6,it:true,a,color:col}));
// dashed regions
rc(161.5,425.5,39,281,'#888','5,4'); rc(367.5,425.5,16,323,'#888','5,4'); rc(592.5,425.5,8,279,'#888','5,4');
// strand arrows
ln(161,683.5,198,683.5,'#333'); ln(195,681,198,683.5,'#333'); ln(195,686,198,683.5,'#333');
ln(368,732.5,381,732.5,'#333'); ln(381,732.5,381,736,'#333'); ln(368,732.5,371,730,'#333'); ln(368,732.5,371,735,'#333');
ln(594,687.5,598,687.5,'#333'); ln(598,685,598,687.5,'#333');

root.insertAdjacentHTML('beforeend',`<svg id="ov" width="676" height="758">${svg.join('')}</svg>`);
</script></body></html>
